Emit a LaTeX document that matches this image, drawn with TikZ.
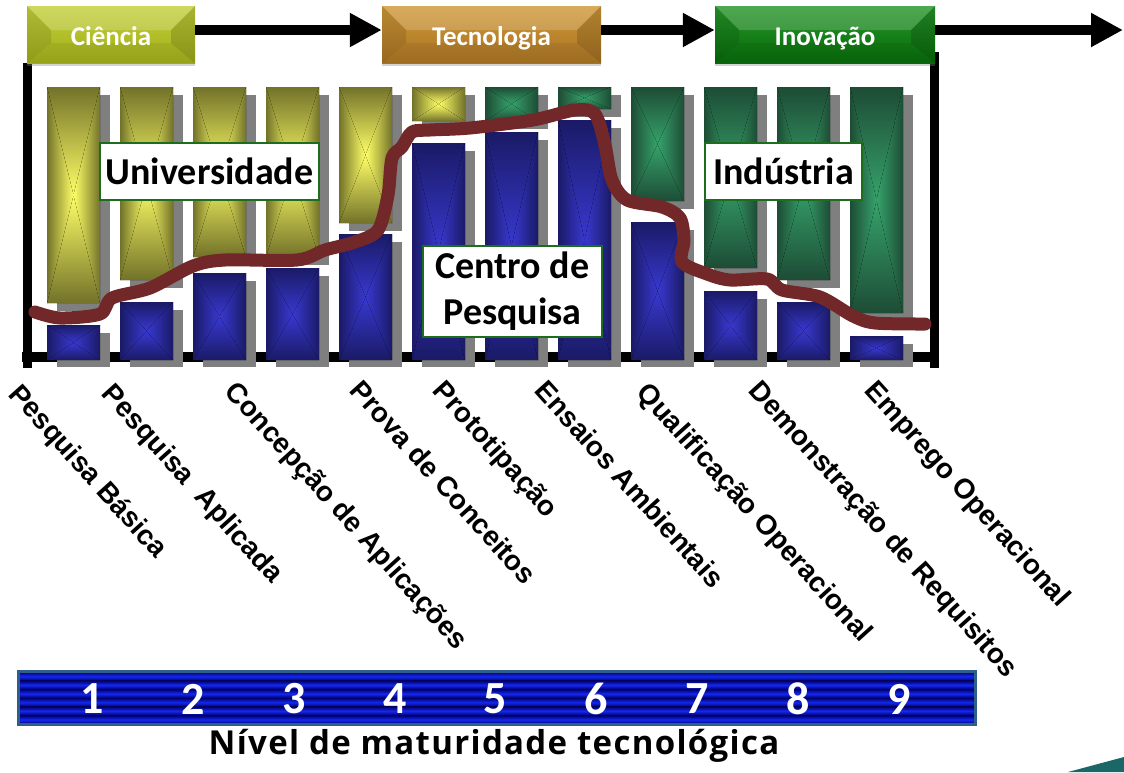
\documentclass[tikz,border=0pt]{standalone}
\usepackage{fontspec}
\setmainfont{Carlito}
\newfontfamily\arialfont{Liberation Sans}
\newfontfamily\titlefont[LetterSpace=4]{Open Sans}
\usetikzlibrary{arrows.meta,shadows}

\definecolor{olivedk}{HTML}{72722A}
\definecolor{olivelt}{HTML}{FFFF66}
\definecolor{greendk}{HTML}{1D4C35}
\definecolor{greenlt}{HTML}{36A26B}
\definecolor{bluedk}{HTML}{1A1A66}
\definecolor{bluelt}{HTML}{3838D0}
\definecolor{barshadow}{HTML}{7F7F7F}
\definecolor{curvered}{HTML}{722828}
\definecolor{boxgreen}{HTML}{1C6E1C}
\definecolor{scaledk}{HTML}{00006E}
\definecolor{scalelt}{HTML}{1428F0}
\definecolor{scaleedge}{HTML}{2F5F88}
\definecolor{corner}{HTML}{1B6666}
\definecolor{cienciatop}{HTML}{C4D03C}
\definecolor{cienciabot}{HTML}{A0AE1A}
\definecolor{tecnotop}{HTML}{D09838}
\definecolor{tecnobot}{HTML}{A87424}
\definecolor{inovtop}{HTML}{26962A}
\definecolor{inovbot}{HTML}{086A0A}

% rectangle gradient bar: colour, left, top, right, bottom
\newcommand\gradbar[5]{%
  \pgfmathsetmacro\bcx{(#2+#4)/2}%
  \pgfmathsetmacro\bcy{(#3+#5)/2}%
  \fill[#1lt!45!#1dk] (#2,#3) rectangle (#4,#5);
  \fill[top color=#1dk, bottom color=#1lt] (#2,#3) -- (#4,#3) -- (\bcx,\bcy) -- cycle;
  \fill[bottom color=#1dk, top color=#1lt] (#2,#5) -- (#4,#5) -- (\bcx,\bcy) -- cycle;
  \fill[left color=#1dk, right color=#1lt] (#2,#3) -- (\bcx,\bcy) -- (#2,#5) -- cycle;
  \fill[right color=#1dk, left color=#1lt] (#4,#3) -- (\bcx,\bcy) -- (#4,#5) -- cycle;
}

\tikzset{
  header/.style={minimum height=57pt, inner sep=0pt, text=white,
    text height=21pt, text depth=0pt,
    font=\bfseries\fontsize{27}{30}\selectfont,
    drop shadow={opacity=0.35, shadow xshift=0pt, shadow yshift=-3pt},
    path picture={
      \coordinate (nw) at (path picture bounding box.north west);
      \coordinate (ne) at (path picture bounding box.north east);
      \coordinate (sw) at (path picture bounding box.south west);
      \coordinate (se) at (path picture bounding box.south east);
      \coordinate (inw) at ([xshift=24pt,yshift=-24pt]nw);
      \coordinate (ine) at ([xshift=-24pt,yshift=-24pt]ne);
      \coordinate (isw) at ([xshift=24pt,yshift=20pt]sw);
      \coordinate (ise) at ([xshift=-24pt,yshift=20pt]se);
      \fill[white, opacity=0.18] (nw) -- (ne) -- (ine) -- (inw) -- cycle;
      \fill[black, opacity=0.10] (nw) -- (inw) -- (isw) -- (sw) -- cycle;
      \fill[black, opacity=0.14] (ne) -- (ine) -- (ise) -- (se) -- cycle;
      \fill[black, opacity=0.06] (sw) -- (isw) -- (ise) -- (se) -- cycle;
    }},
  flow/.style={line width=10pt, -{Triangle[length=32pt,width=32pt]}},
  frame/.style={line width=9pt},
  region/.style={draw=boxgreen, line width=2pt, fill=white, inner sep=0pt,
    align=center, font=\bfseries\fontsize{38}{46}\selectfont},
  stage/.style={rotate=-48, anchor=north west, inner sep=0pt,
    font=\arialfont\bfseries\fontsize{28}{30}\selectfont},
  trl/.style={text=white, font=\bfseries\fontsize{46}{46}\selectfont},
  curve/.style={curvered, line width=13pt, line cap=round, line join=round},
}

\begin{document}
\begin{tikzpicture}[x=1pt, y=-1pt]
  \useasboundingbox (0,0) rectangle (1124,772);

  % frame
  \draw[frame] (27,63) -- (27,368);
  \draw[frame] (934,52) -- (934,368);
  \draw[line width=10pt] (22,357) -- (938,357);

  % bars: column / bottom of upper bar / top of blue bar / colour
  \foreach \i/\tb/\bt/\kind in {1/303/325/olive, 2/280/302/olive, 3/257/273/olive,
      4/257/268/olive, 5/223/234/olive, 6/121/143/olive, 7/121/132/green,
      8/109/120/green, 9/201/222/green, 10/268/291/green, 11/280/302/green,
      12/313/336/green} {
    \pgfmathsetmacro\xl{47+73*(\i-1)}
    \pgfmathsetmacro\xr{\xl+53}
    \fill[barshadow] (\xl+10,95) rectangle (\xr+10,\tb+8);
    \fill[barshadow] (\xl+10,\bt+8) rectangle (\xr+10,367);
    \gradbar{\kind}{\xl}{87}{\xr}{\tb}
    \gradbar{blue}{\xl}{\bt}{\xr}{360}
  }

  % maturity curve
  \draw[curve] plot[smooth, tension=0.5] coordinates {
    (35,312) (60,318) (100,314) (112,298) (150,288) (193,266) (225,260)
    (297,260) (325,250) (355,242) (378,230) (388,195) (392,158) (402,147)
    (412,132) (430,130) (470,128) (533,120) (575,110) (595,114) (605,145)
    (612,180) (627,200) (662,207) (680,218) (684,240) (682,262) (707,274)
    (730,280) (767,279) (782,290) (820,297) (853,316) (875,323) (925,324)};

  \node[region, minimum width=219pt, minimum height=57pt] (univ) at (209.5,171.5) {Universidade};
  \node[region, minimum width=179pt, minimum height=91pt] (centro) at (512.5,291.5) {Centro de\\Pesquisa};
  \node[region, minimum width=157pt, minimum height=57pt] (ind) at (783.5,171.5) {Indústria};

  % headers
  \node[header, minimum width=168pt, top color=cienciatop, bottom color=cienciabot] (ciencia) at (111,34.5) {Ciência};
  \node[header, minimum width=219pt, top color=tecnotop, bottom color=tecnobot] (tecnologia) at (491.5,34.5) {Tecnologia};
  \node[header, minimum width=220pt, top color=inovtop, bottom color=inovbot] (inovacao) at (825,34.5) {Inovação};
  \coordinate (fim) at (1123,30);
  \draw[flow] ([yshift=4.5pt]ciencia.east) -- ([yshift=4.5pt]tecnologia.west);
  \draw[flow] ([yshift=4.5pt]tecnologia.east) -- ([yshift=4.5pt]inovacao.west);
  \draw[flow] ([yshift=4.5pt]inovacao.east) -- (fim);

  % stage names
  \node[stage] (s1) at (23,381) {Pesquisa Básica};
  \node[stage] (s2) at (116,381) {Pesquisa~~Aplicada};
  \node[stage] (s3) at (239,379) {Concepção de Aplicações};
  \node[stage] (s4) at (364,378) {Prova de Conceitos};
  \node[stage] (s5) at (447,378) {Prototipação};
  \node[stage] (s6) at (549,378) {Ensaios Ambientais};
  \node[stage] (s7) at (651,380) {Qualificação Operacional};
  \node[stage] (s8) at (763,378) {Demonstração de Requisitos};
  \node[stage] (s9) at (879,378) {Emprego Operacional};

  % scale
  \foreach \k in {0,...,5}
    \fill[top color=scaledk, bottom color=scaledk, middle color=scalelt]
      (19,672+8.67*\k) rectangle (974,672+8.67*\k+8.67);
  \draw[scaleedge, line width=3pt] (18,671) rectangle (975,724);
  \foreach \d in {1,...,9}
    \node[trl] (n\d) at (92+100.9*\d-100.9,699) {\d};
  \node[font=\titlefont\bfseries\fontsize{33}{36}\selectfont] (titulo) at (494,746) {Nível de maturidade tecnológica};

  \fill[corner] (1068,772) -- (1124,757) -- (1124,772) -- cycle;
\end{tikzpicture}
\end{document}
